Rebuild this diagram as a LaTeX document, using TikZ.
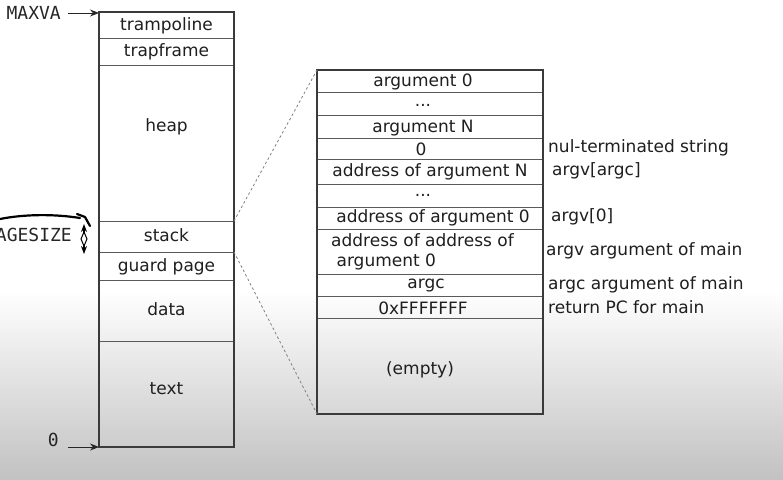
\documentclass[tikz,border=0pt]{standalone}
\usepackage{fontspec}
\setmainfont{DejaVu Sans}
\newfontfamily\labfont{DejaVu Sans Mono}
\usetikzlibrary{arrows.meta}
\definecolor{boxline}{HTML}{3A3A3A}
\definecolor{divline}{HTML}{5A5A5A}
\begin{document}
\begin{tikzpicture}[x=1pt,y=-1pt,
  txt/.style={inner sep=0pt,font=\fontsize{17}{20}\selectfont,text=black!88},
  side/.style={txt,anchor=west},
  lab/.style={inner sep=0pt,font=\labfont\fontsize{18}{20}\selectfont,text=black!85},
  outer/.style={draw=boxline,line width=1.5pt},
  divider/.style={draw=divline,line width=0.9pt},
  zoomline/.style={draw=gray,line width=0.8pt,dash pattern=on 2.5pt off 2.5pt},
  ptr/.style={draw=black!85,line width=1pt,-{Stealth[length=9pt,width=7pt]}}]
% background
\useasboundingbox (0,0) rectangle (783,479);
\fill[white] (0,0) rectangle (783,479);
\shade[top color=white,bottom color=black!24] (0,290) rectangle (783,479.5);
\clip (0,0) rectangle (783,479);
% ---------------- left memory box
\foreach \y in {38,65,221,252,280,341}{\draw[divider] (99,\y) -- (234,\y);}
\draw[outer] (99,12) rectangle (234,447);
\node[txt] (tramp) at (166.5,26) {trampoline};
\node[txt] (trapf) at (166.5,52) {trapframe};
\node[txt] (heap) at (166.5,127) {heap};
\node[txt] (stack) at (166.5,235) {stack};
\node[txt] (guard) at (166.5,267) {guard page};
\node[txt] (data) at (166.5,309) {data};
\node[txt] (text) at (166.5,389) {text};
\coordinate (maxvaP) at (99,13);
\coordinate (zeroP) at (99,447);
\node[lab,anchor=east] (maxva) at (61,13) {MAXVA};
\node[lab,anchor=east] (zero) at (59,440) {0};
\draw[ptr] (68,13) -- (maxvaP);
\draw[ptr] (68,447) -- (zeroP);
% PAGESIZE annotation
\node[lab,anchor=east] (pagesize) at (72,235) {PAGESIZE};
\coordinate (psTop) at (84,224);
\coordinate (psBot) at (84,254);
\draw[black,line width=1.3pt,{Stealth[length=8pt,width=6pt]}-{Stealth[length=8pt,width=6pt]}] (psTop) -- (psBot);
\draw[black,line width=1pt,fill=white] (84,232) -- (87,239) -- (84,246) -- (81,239) -- cycle;
\draw[black,line width=2.2pt,line cap=round] (0,219) .. controls (25,214) and (55,214) .. (80,218);
\draw[black,line width=2.2pt,line cap=round,line join=round] (77,214) -- (85,217) -- (90,226);
% ---------------- right stack box
\foreach \y in {92,115,138,159,184,207,229,274,296,318}{\draw[divider] (316,\y) -- (543,\y);}
\draw[outer] (317,70) rectangle (543,414);
\node[txt] (a0) at (423,82) {argument 0};
\node[txt] (d1) at (423,105) {...};
\node[txt] (aN) at (423,128) {argument N};
\node[txt] (nul) at (421,149) {0};
\node[txt] (adN) at (430,172) {address of argument N};
\node[txt] (d2) at (423,195) {...};
\node[txt] (ad0) at (433,218) {address of argument 0};
\node[txt,anchor=west,align=left] (adad) at (331,252) {address of address of\\\ argument 0};
\node[txt] (argc) at (426,286) {argc};
\node[txt] (pc) at (423,308) {0xFFFFFFF};
\node[txt] (empty) at (420,370) {(empty)};
% side labels
\node[side] (s1) at (548,148) {nul-terminated string};
\node[side] (s2) at (552,171) {argv[argc]};
\node[side] (s3) at (551,217) {argv[0]};
\node[side] (s4) at (546,251) {argv argument of main};
\node[side] (s5) at (548,285) {argc argument of main};
\node[side] (s6) at (548,307) {return PC for main};
% zoom lines
\coordinate (stTop) at (234,221);
\coordinate (stBot) at (234,252);
\coordinate (rTop) at (317,70);
\coordinate (rBot) at (317,414);
\draw[zoomline] (stTop) -- (rTop);
\draw[zoomline] (stBot) -- (rBot);
\end{tikzpicture}
\end{document}
